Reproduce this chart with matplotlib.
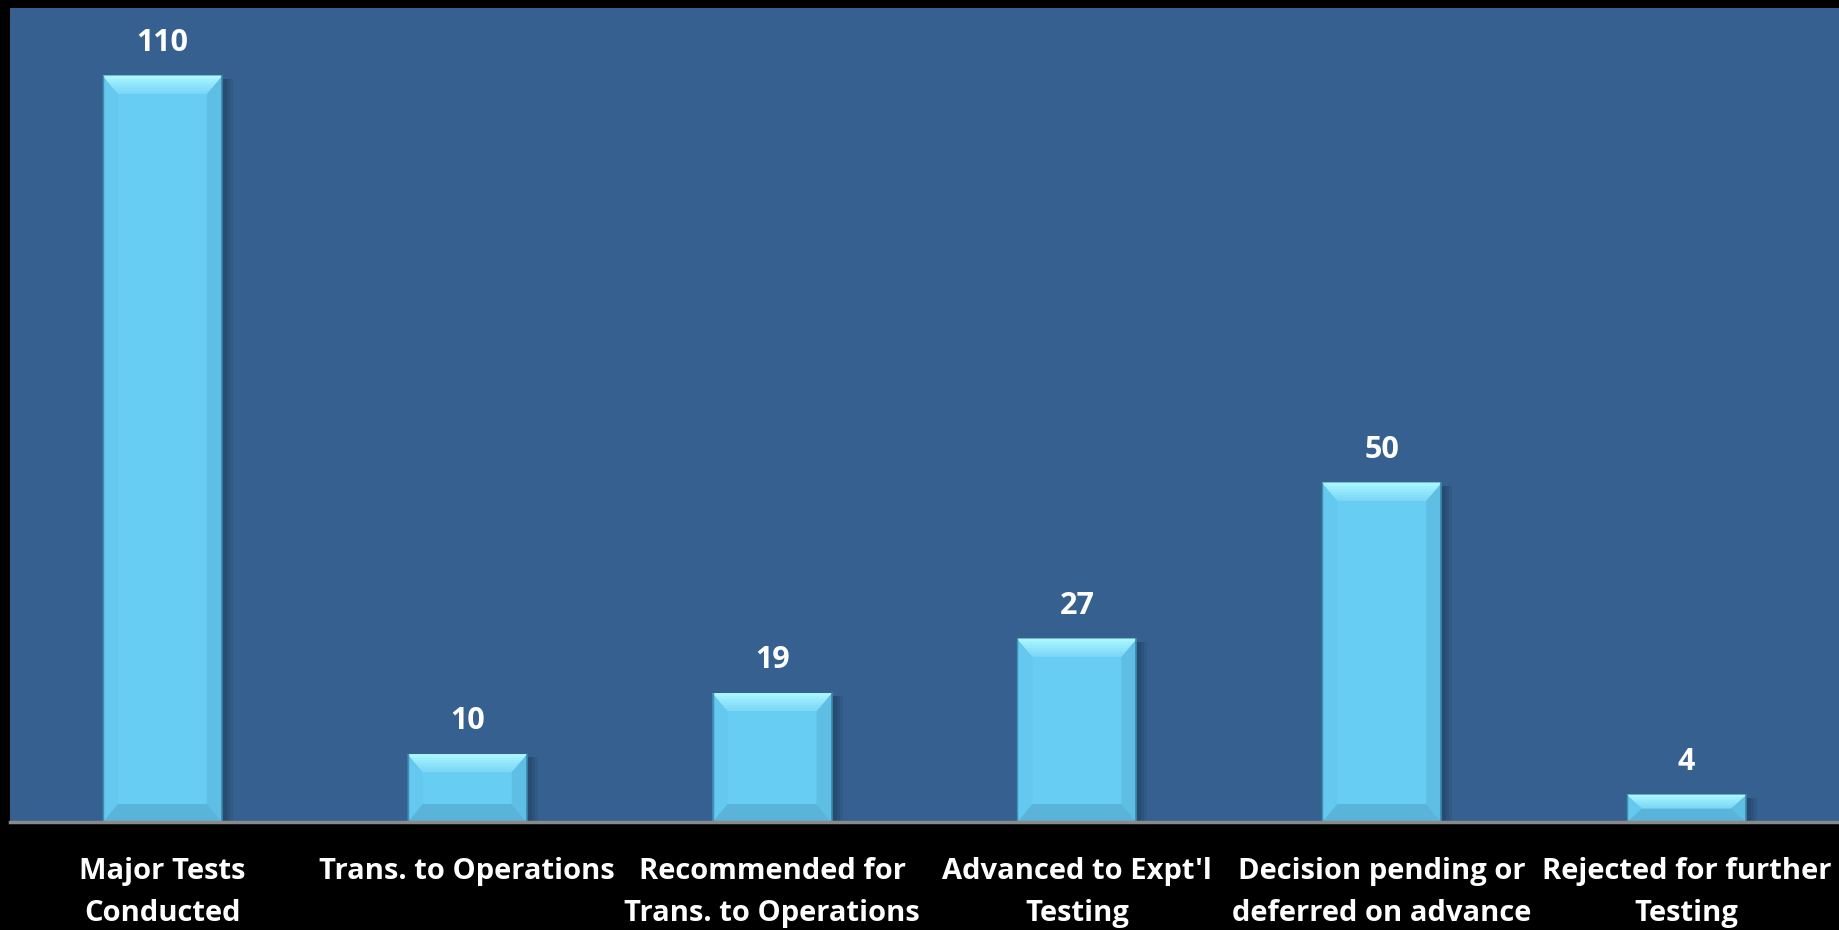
import matplotlib
matplotlib.use("Agg")
import matplotlib.pyplot as plt
from matplotlib.patches import Polygon, Rectangle

# data
categories = ["Major Tests\nConducted", "Trans. to Operations", "Recommended for\nTrans. to Operations",
              "Advanced to Expt'l\nTesting", "Decision pending or\ndeferred on advance", "Rejected for further\nTesting"]
values = [110, 10, 19, 27, 50, 4]

plt.rcParams['font.family'] = ['Open Sans', 'DejaVu Sans']

bg = "#36608f"
face = "#68cdf3"

fig = plt.figure(figsize=(18.39, 9.30), dpi=100, facecolor="black")
ax = fig.add_axes([10/1839, 1-822/930, 1-10/1839, 814/930])
ax.set_facecolor(bg)

x = list(range(len(values)))
bars = ax.bar(x, values, width=0.39, color=face, zorder=3)
ax.set_xlim(-0.5, len(values)-0.5)
ax.set_ylim(0, 120)

for s in ["top", "left", "right"]:
    ax.spines[s].set_visible(False)
ax.spines["bottom"].set_color("#8a8a8a")
ax.spines["bottom"].set_linewidth(2.5)
ax.spines["bottom"].set_zorder(6)
ax.set_yticks([])
ax.set_xticks(x)
ax.set_xticklabels(categories, color="white", fontsize=21, fontweight="bold", linespacing=1.62)
ax.tick_params(axis="x", length=0, pad=25)

# bevel + shadow, sized in pixels
fig.canvas.draw()
inv = ax.transData.inverted()
(x0, y0) = inv.transform((0, 0))
(x1, y1) = inv.transform((1, 1))
px = x1 - x0
py = y1 - y0
for b in bars:
    l = b.get_x(); w = b.get_width(); h = b.get_height(); r = l + w
    bx = 15 * px
    by = min(18 * py, h / 2)
    # soft shadow to the right
    for k, a in [(9, 0.10), (6, 0.14), (3, 0.18)]:
        ax.add_patch(Rectangle((l + 2*px, 0), w + k*px, h - 3*py, color="#152a45", alpha=a, lw=0, zorder=2))
    left = Polygon([(l, h), (l + bx, h - by), (l + bx, by), (l, 0)], closed=True, color="#65c8ee", lw=0, zorder=4)
    right = Polygon([(r, h), (r - bx, h - by), (r - bx, by), (r, 0)], closed=True, color="#5fbee4", lw=0, zorder=4)
    bot = Polygon([(l, 0), (r, 0), (r - bx, by), (l + bx, by)], closed=True, color="#5ab4da", lw=0, zorder=4)
    ax.add_patch(left); ax.add_patch(right); ax.add_patch(bot)
    # top bevel as a light gradient
    cols = ["#7ed8f6", "#85ddf8", "#8de3fa", "#95e9fc", "#9eeffe", "#aaf6ff"]
    for i, c in enumerate(cols):
        f0 = i / len(cols)
        yb = h - by * (1 - f0)
        ax.add_patch(Polygon([(l + bx*(1 - f0), yb), (r - bx*(1 - f0), yb), (r, h), (l, h)],
                             closed=True, color=c, lw=0, zorder=5 + i*0.01))
    # thin dark edges
    ax.plot([l, l], [0, h], color="#3f8fb3", lw=1, zorder=6)
    ax.plot([r, r], [0, h], color="#3a86a8", lw=1.2, zorder=6)
    ax.text(b.get_x() + w/2, h + 33*py, str(int(h)), ha="center", va="center",
            color="white", fontsize=22, fontweight="bold", zorder=7)

fig.savefig("out.png", dpi=100, facecolor="black")
